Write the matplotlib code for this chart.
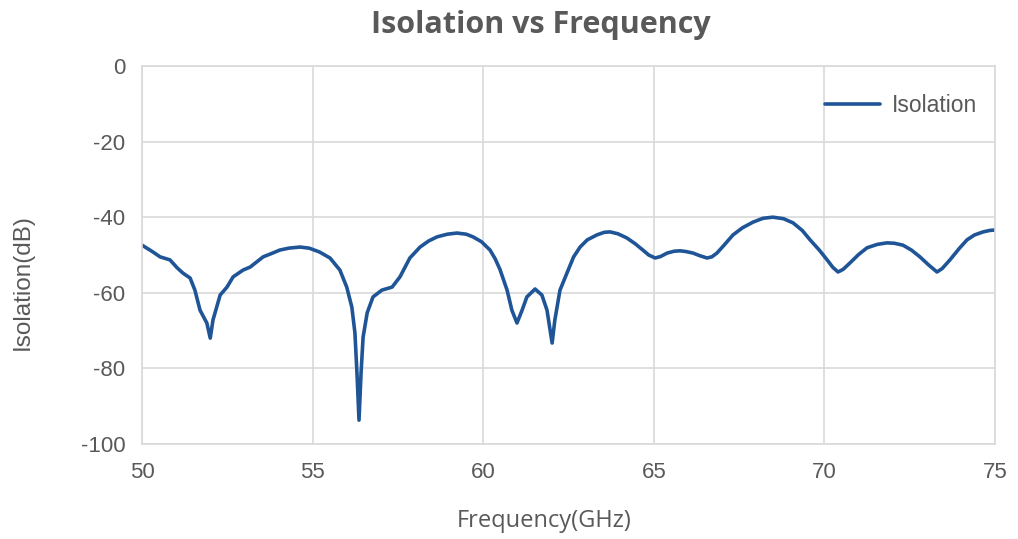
import matplotlib
matplotlib.use('Agg')
import matplotlib.pyplot as plt

plt.rcParams['axes.unicode_minus'] = False

# Isolation curve
freq_ghz = [50.0, 50.32, 50.53, 50.82, 51.03, 51.2, 51.41, 51.55, 51.7, 51.9,
            52.0, 52.08, 52.29, 52.49, 52.67, 52.96, 53.17, 53.55, 53.8, 54.04,
            54.3, 54.63, 54.9, 55.2, 55.51, 55.8, 56.0, 56.15, 56.24, 56.3,
            56.36, 56.42, 56.48, 56.6, 56.77, 57.03, 57.33, 57.56, 57.85, 58.15,
            58.4, 58.65, 58.95, 59.23, 59.5, 59.7, 59.95, 60.2, 60.35, 60.49,
            60.7, 60.84, 60.99, 61.14, 61.28, 61.52, 61.72, 61.87, 62.02, 62.1,
            62.25, 62.49, 62.65, 62.84, 63.05, 63.33, 63.55, 63.72, 63.95, 64.21,
            64.45, 64.68, 64.85, 65.04, 65.2, 65.39, 65.6, 65.77, 65.95, 66.15,
            66.35, 66.56, 66.7, 66.85, 67.05, 67.32, 67.6, 67.91, 68.2, 68.49,
            68.8, 69.08, 69.35, 69.58, 69.85, 70.08, 70.25, 70.4, 70.55, 70.75,
            71.0, 71.25, 71.55, 71.83, 72.05, 72.3, 72.55, 72.8, 73.05, 73.3,
            73.45, 73.68, 73.95, 74.18, 74.4, 74.65, 74.85, 75.0]
isolation_db = [-47.4, -49.2, -50.5, -51.3, -53.4, -54.8, -56.1, -59.3, -64.6, -68.0,
                -72.0, -67.2, -60.6, -58.5, -55.8, -54.0, -53.2, -50.5, -49.6, -48.7,
                -48.2, -47.9, -48.2, -49.2, -50.8, -54.0, -58.5, -63.8, -70.6, -81.2,
                -93.7, -81.2, -71.7, -65.3, -61.1, -59.3, -58.5, -55.8, -50.8, -47.9,
                -46.3, -45.2, -44.5, -44.2, -44.5, -45.2, -46.5, -48.7, -51.0, -53.8,
                -59.3, -64.6, -68.0, -64.6, -61.1, -59.0, -60.6, -64.6, -73.3, -67.2,
                -59.3, -54.0, -50.5, -47.9, -46.0, -44.7, -44.0, -43.9, -44.4, -45.5,
                -47.0, -48.7, -50.0, -50.8, -50.4, -49.5, -49.0, -48.9, -49.1, -49.5,
                -50.2, -50.8, -50.5, -49.5, -47.5, -44.7, -42.8, -41.3, -40.3, -40.0,
                -40.4, -41.5, -43.5, -46.0, -48.7, -51.3, -53.3, -54.5, -53.8, -52.1,
                -49.9, -48.1, -47.2, -46.8, -46.9, -47.4, -48.7, -50.5, -52.6, -54.5,
                -53.6, -51.3, -48.3, -46.0, -44.7, -43.9, -43.5, -43.4]

xticks = [50, 55, 60, 65, 70, 75]
yticks = [0, -20, -40, -60, -80, -100]

grey_text = '#595959'
grid_col = '#d9d9d9'

fig = plt.figure(figsize=(10.18, 5.39), dpi=100)
ax = fig.add_axes([0.1395, 0.1763, 0.8379, 0.7013])

ax.plot(freq_ghz, isolation_db, color='#1f5597', linewidth=2.6,
        solid_joinstyle='round', solid_capstyle='round', label='Isolation')

ax.set_xlim(50, 75)
ax.set_ylim(-100, 0)
ax.set_xticks(xticks)
ax.set_yticks(yticks)
ax.tick_params(length=0, labelsize=16, labelcolor=grey_text)
ax.tick_params(axis='x', pad=13)
ax.tick_params(axis='y', pad=12)
for lbl in ax.get_xticklabels() + ax.get_yticklabels():
    lbl.set_family('Liberation Sans')

ax.grid(True, color=grid_col, linewidth=1.2)
ax.set_axisbelow(True)
for s in ax.spines.values():
    s.set_color(grid_col)
    s.set_linewidth(1.2)

ax.set_xlabel('Frequency(GHz)', fontsize=17, color=grey_text,
              family='Open Sans', labelpad=19)
ax.xaxis.label.set_x(0.471)
ax.set_ylabel('Isolation(dB)', fontsize=17.5, color=grey_text,
              family='Liberation Sans', labelpad=34)
ax.yaxis.label.set_y(0.429)

fig.suptitle('Isolation vs Frequency', x=0.531, y=0.982, fontsize=22,
             fontweight='bold', color=grey_text, family='Open Sans')

leg = ax.legend(loc='upper right', bbox_to_anchor=(1.0, 0.974), frameon=False,
                handlelength=2.4, handletextpad=0.5, borderaxespad=0.4,
                prop={'family': 'Liberation Sans', 'size': 16.5})
for t in leg.get_texts():
    t.set_color(grey_text)

fig.savefig('out.png', dpi=100, facecolor='white')
